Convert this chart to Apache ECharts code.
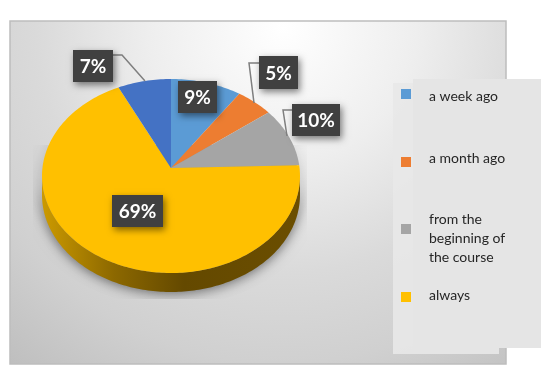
<!DOCTYPE html>
<html>
<head>
<meta charset="utf-8">
<style>html,body{margin:0;padding:0;background:#fff}#c{width:554px;height:379px}</style>
<script src="https://cdn.jsdelivr.net/npm/echarts@6/dist/echarts.min.js"></script>
</head>
<body>
<div id="c"></div>
<script>
const categories = ['a week ago', 'a month ago', 'from the\nbeginning of\nthe course', 'always', 'earlier'];
const values = [8.8, 4.7, 9.5, 69.4, 6.6];
const colors = ['#5b9bd5', '#ed7d31', '#a5a5a5', '#ffc000', '#4472c4'];
const legendNames = categories.slice(0, 4);

const geo = { cx: 171, cy: 176, rx: 129, ry: 97, apexY: 168, depth: 19 };
const labelBoxes = [
  { x: 178, y: 81, w: 39, h: 32 },
  { x: 259, y: 56, w: 39, h: 33 },
  { x: 292, y: 104, w: 48, h: 32 },
  { x: 112, y: 195, w: 51, h: 32 },
  { x: 73, y: 50, w: 40, h: 32 }
];
const leaders = [
  null,
  [[259, 63], [249, 63], [254, 103]],
  [[292, 110], [283, 110], [287, 136]],
  null,
  [[113, 55], [122, 55], [145, 81]]
];
const legendSquareTops = [89, 157, 224, 292];
const legendTextCentres = [96, 158, 238, 295];
const shadowClip = { x: 33, y: 145, width: 274, height: 154 };

const total = values.reduce((a, b) => a + b, 0);
function angleAt(i) {
  let s = 0;
  for (let k = 0; k < i; k++) s += values[k];
  return s / total * 2 * Math.PI;
}
function pt(t, dy) {
  return [geo.cx + geo.rx * Math.sin(t), geo.cy - geo.ry * Math.cos(t) + (dy || 0)];
}
function arc(a, b, dy) {
  const out = [], n = Math.max(2, Math.ceil((b - a) / 0.02));
  for (let i = 0; i <= n; i++) out.push(pt(a + (b - a) * i / n, dy));
  return out;
}
function renderSlice(idx) {
  return function (params, api) {
    const a = angleAt(idx), b = a + api.value(0) / total * 2 * Math.PI;
    const children = [];
    const lo = Math.max(a, Math.PI / 2), hi = Math.min(b, Math.PI * 1.5);
    if (hi > lo) {
      children.push({
        type: 'polygon', z2: 0, silent: true,
        shape: { points: arc(0, 2 * Math.PI, 11) },
        clipPath: { type: 'rect', shape: shadowClip },
        style: { fill: '#999999', shadowBlur: 18, shadowColor: 'rgba(0,0,0,0.2)' }
      });
      const top = arc(lo, hi, 0), bot = arc(lo, hi, geo.depth).reverse();
      children.push({
        type: 'polygon', z2: 1, shape: { points: top.concat(bot) },
        clipPath: { type: 'rect', shape: shadowClip },
        style: {
          fill: new echarts.graphic.LinearGradient(1, 0, 0, 0, [
            { offset: 0, color: '#6b4e00' }, { offset: 0.45, color: '#644900' },
            { offset: 0.72, color: '#8c6800' }, { offset: 1, color: '#cc9a00' }
          ]),
          shadowBlur: 12, shadowColor: 'rgba(0,0,0,0.45)', shadowOffsetY: 2
        }
      });
    }
    children.push({
      type: 'polygon', z2: 5,
      shape: { points: [[geo.cx, geo.apexY]].concat(arc(a, b, 0)) },
      style: { fill: colors[idx] }
    });
    if (leaders[idx]) {
      children.push({
        type: 'polyline', z2: 20, shape: { points: leaders[idx] },
        style: { stroke: '#7f7f7f', lineWidth: 1.5, fill: null }
      });
    }
    const box = labelBoxes[idx];
    children.push({
      type: 'rect', z2: 21, shape: { x: box.x, y: box.y, width: box.w, height: box.h },
      style: { fill: '#404040', shadowBlur: 7, shadowColor: 'rgba(0,0,0,0.5)', shadowOffsetX: 2, shadowOffsetY: 3 }
    });
    children.push({
      type: 'text', z2: 22,
      style: {
        text: Math.round(api.value(0)) + '%',
        x: box.x + box.w / 2, y: box.y + box.h / 2 + 1,
        align: 'center', verticalAlign: 'middle',
        fill: '#ffffff', font: 'bold 19px Lato, "Open Sans", sans-serif'
      }
    });
    return { type: 'group', children };
  };
}

const series = categories.map((name, i) => ({
  type: 'custom', name, coordinateSystem: 'none',
  data: [[values[i]]], itemStyle: { color: colors[i] },
  renderItem: renderSlice(i), silent: true, animation: false, clip: false
}));

const legends = legendNames.map((name, i) => ({
  data: [name], left: 401, top: legendSquareTops[i], orient: 'vertical',
  itemWidth: 10, itemHeight: 10, padding: 0, icon: 'rect', selectedMode: false,
  formatter: () => ' ',
  textStyle: { fontSize: 10, lineHeight: 10 }
}));

const legendTexts = legendNames.map((name, i) => ({
  type: 'text', z: 6, silent: true, x: 429, y: legendTextCentres[i],
  style: {
    text: name, fill: '#262626', font: '14px Lato, "Open Sans", sans-serif',
    lineHeight: 19, align: 'left', verticalAlign: 'middle'
  }
}));

const chart = echarts.init(document.getElementById('c'), null, { renderer: 'canvas' });
chart.setOption({
  animation: false,
  backgroundColor: '#ffffff',
  graphic: [
    {
      type: 'rect', z: -10, silent: true,
      shape: { x: 10, y: 21, width: 496, height: 343 },
      style: {
        fill: new echarts.graphic.RadialGradient(0.55, 0.02, 1.3, [
          { offset: 0, color: '#ffffff' }, { offset: 0.3, color: '#eeeeee' },
          { offset: 0.55, color: '#dadada' }, { offset: 0.75, color: '#d0d0d0' },
          { offset: 1, color: '#bcbcbc' }
        ]),
        stroke: '#bdbdbd', lineWidth: 1.5
      }
    },
    {
      type: 'rect', z: -9, silent: true,
      shape: { x: 393, y: 83, width: 106, height: 271 },
      style: { fill: 'rgba(232,232,232,0.9)' }
    },
    {
      type: 'rect', z: -8, silent: true,
      shape: { x: 413, y: 79, width: 128, height: 269 },
      style: { fill: '#e5e5e5' }
    }
  ].concat(legendTexts),
  legend: legends,
  series
});
</script>
</body>
</html>
